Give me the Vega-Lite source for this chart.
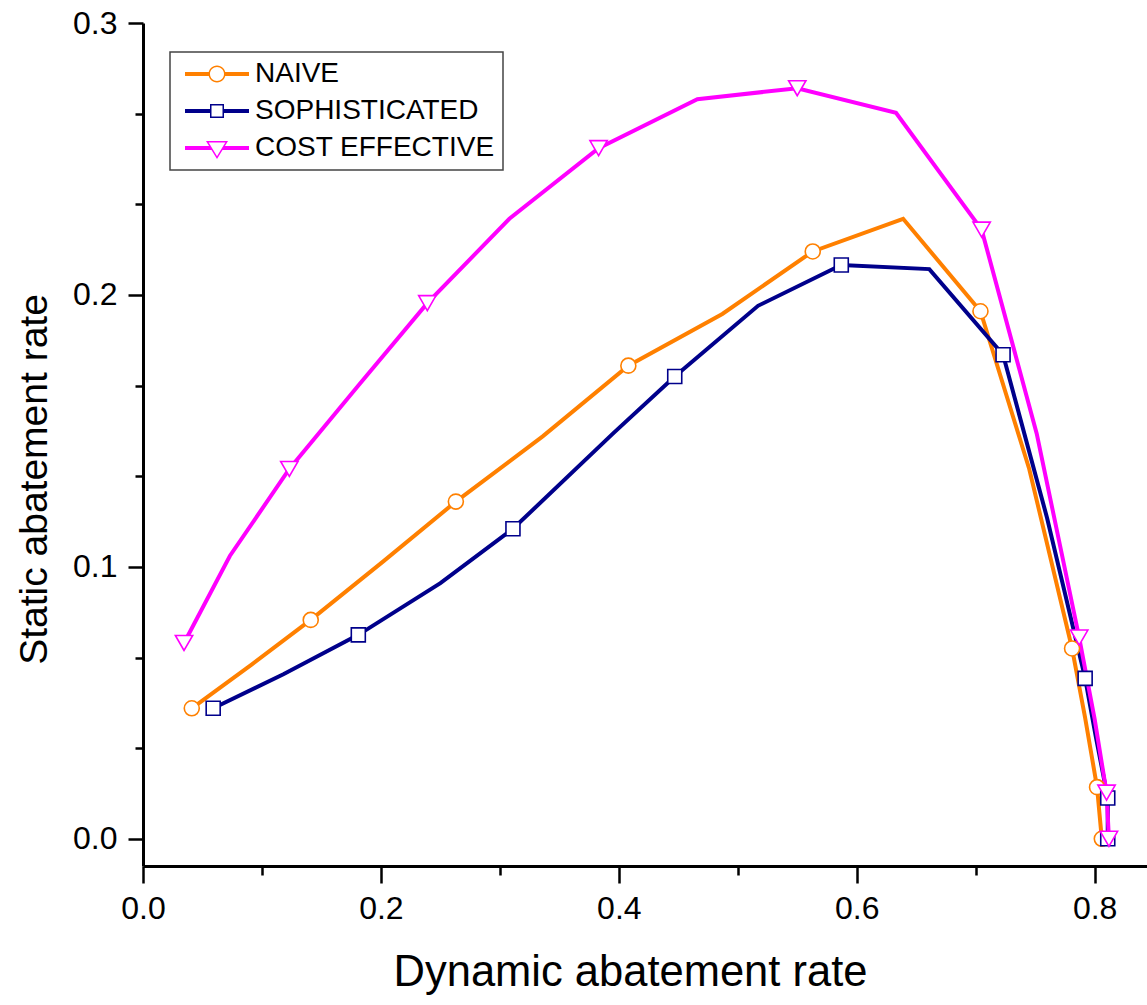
{
  "$schema": "https://vega.github.io/schema/vega-lite/v6.json",
  "width": 1004,
  "height": 843,
  "autosize": "none",
  "padding": {"left": 143, "top": 23, "right": 0, "bottom": 139},
  "background": "white",
  "config": {
    "view": {"stroke": null},
    "font": "Liberation Sans",
    "legend": {"strokeWidth": 1.5}
  },
  "data": {
    "values": [
      {"s": "NAIVE", "i": 1, "x": 0.041, "y": 0.048, "m": 1},
      {"s": "NAIVE", "i": 2, "x": 0.091, "y": 0.064, "m": 0},
      {"s": "NAIVE", "i": 3, "x": 0.141, "y": 0.0805, "m": 1},
      {"s": "NAIVE", "i": 4, "x": 0.202, "y": 0.102, "m": 0},
      {"s": "NAIVE", "i": 5, "x": 0.263, "y": 0.124, "m": 1},
      {"s": "NAIVE", "i": 6, "x": 0.336, "y": 0.148, "m": 0},
      {"s": "NAIVE", "i": 7, "x": 0.408, "y": 0.174, "m": 1},
      {"s": "NAIVE", "i": 8, "x": 0.487, "y": 0.193, "m": 0},
      {"s": "NAIVE", "i": 9, "x": 0.563, "y": 0.216, "m": 1},
      {"s": "NAIVE", "i": 10, "x": 0.639, "y": 0.228, "m": 0},
      {"s": "NAIVE", "i": 11, "x": 0.704, "y": 0.194, "m": 1},
      {"s": "NAIVE", "i": 12, "x": 0.745, "y": 0.136, "m": 0},
      {"s": "NAIVE", "i": 13, "x": 0.781, "y": 0.070, "m": 1},
      {"s": "NAIVE", "i": 14, "x": 0.792, "y": 0.0445, "m": 0},
      {"s": "NAIVE", "i": 15, "x": 0.802, "y": 0.019, "m": 1},
      {"s": "NAIVE", "i": 16, "x": 0.806, "y": 0.000, "m": 1},
      {"s": "SOPHISTICATED", "i": 1, "x": 0.059, "y": 0.048, "m": 1},
      {"s": "SOPHISTICATED", "i": 2, "x": 0.118, "y": 0.0605, "m": 0},
      {"s": "SOPHISTICATED", "i": 3, "x": 0.181, "y": 0.075, "m": 1},
      {"s": "SOPHISTICATED", "i": 4, "x": 0.250, "y": 0.094, "m": 0},
      {"s": "SOPHISTICATED", "i": 5, "x": 0.311, "y": 0.114, "m": 1},
      {"s": "SOPHISTICATED", "i": 6, "x": 0.395, "y": 0.149, "m": 0},
      {"s": "SOPHISTICATED", "i": 7, "x": 0.447, "y": 0.170, "m": 1},
      {"s": "SOPHISTICATED", "i": 8, "x": 0.517, "y": 0.196, "m": 0},
      {"s": "SOPHISTICATED", "i": 9, "x": 0.587, "y": 0.211, "m": 1},
      {"s": "SOPHISTICATED", "i": 10, "x": 0.661, "y": 0.2095, "m": 0},
      {"s": "SOPHISTICATED", "i": 11, "x": 0.723, "y": 0.178, "m": 1},
      {"s": "SOPHISTICATED", "i": 12, "x": 0.760, "y": 0.118, "m": 0},
      {"s": "SOPHISTICATED", "i": 13, "x": 0.792, "y": 0.059, "m": 1},
      {"s": "SOPHISTICATED", "i": 14, "x": 0.801, "y": 0.0375, "m": 0},
      {"s": "SOPHISTICATED", "i": 15, "x": 0.811, "y": 0.015, "m": 1},
      {"s": "SOPHISTICATED", "i": 16, "x": 0.811, "y": 0.000, "m": 1},
      {"s": "COST EFFECTIVE", "i": 1, "x": 0.0345, "y": 0.072, "m": 1},
      {"s": "COST EFFECTIVE", "i": 2, "x": 0.073, "y": 0.104, "m": 0},
      {"s": "COST EFFECTIVE", "i": 3, "x": 0.123, "y": 0.136, "m": 1},
      {"s": "COST EFFECTIVE", "i": 4, "x": 0.1807, "y": 0.1665, "m": 0},
      {"s": "COST EFFECTIVE", "i": 5, "x": 0.239, "y": 0.197, "m": 1},
      {"s": "COST EFFECTIVE", "i": 6, "x": 0.308, "y": 0.228, "m": 0},
      {"s": "COST EFFECTIVE", "i": 7, "x": 0.383, "y": 0.254, "m": 1},
      {"s": "COST EFFECTIVE", "i": 8, "x": 0.466, "y": 0.272, "m": 0},
      {"s": "COST EFFECTIVE", "i": 9, "x": 0.550, "y": 0.276, "m": 1},
      {"s": "COST EFFECTIVE", "i": 10, "x": 0.633, "y": 0.267, "m": 0},
      {"s": "COST EFFECTIVE", "i": 11, "x": 0.705, "y": 0.224, "m": 1},
      {"s": "COST EFFECTIVE", "i": 12, "x": 0.7513, "y": 0.149, "m": 0},
      {"s": "COST EFFECTIVE", "i": 13, "x": 0.787, "y": 0.074, "m": 1},
      {"s": "COST EFFECTIVE", "i": 14, "x": 0.800, "y": 0.044, "m": 0},
      {"s": "COST EFFECTIVE", "i": 15, "x": 0.810, "y": 0.017, "m": 1},
      {"s": "COST EFFECTIVE", "i": 16, "x": 0.812, "y": 0.000, "m": 1}
    ]
  },
  "layer": [
    {
      "mark": {"type": "line", "strokeWidth": 4, "clip": false},
      "encoding": {
        "x": {
          "field": "x", "type": "quantitative",
          "scale": {"domain": [0, 0.844], "nice": false, "zero": false},
          "axis": {
            "orient": "bottom",
            "values": [0, 0.2, 0.4, 0.6, 0.8], "format": ".1f",
            "grid": false, "domainColor": "black", "domainWidth": 3,
            "tickColor": "black", "tickWidth": 2.5, "tickSize": 17,
            "labelFont": "Liberation Sans", "labelFontSize": 32, "labelColor": "black", "labelPadding": 10,
            "labelFlush": false,
            "title": "Dynamic abatement rate", "titleFont": "Liberation Sans", "titleFontSize": 43.5,
            "titleFontWeight": "normal", "titleColor": "black", "titlePadding": 27, "titleX": 487
          }
        },
        "y": {
          "field": "y", "type": "quantitative",
          "scale": {"domain": [-0.01, 0.3], "nice": false, "zero": false},
          "axis": {
            "orient": "left",
            "values": [0, 0.1, 0.2, 0.3], "format": ".1f",
            "grid": false, "domainColor": "black", "domainWidth": 3,
            "tickColor": "black", "tickWidth": 2.5, "tickSize": 15,
            "labelFont": "Liberation Sans", "labelFontSize": 32, "labelColor": "black", "labelPadding": 11,
            "labelFlush": false,
            "title": "Static abatement rate", "titleFont": "Liberation Sans", "titleFontSize": 39,
            "titleFontWeight": "normal", "titleColor": "black", "titlePadding": 18, "titleY": 456
          }
        },
        "color": {
          "field": "s", "type": "nominal",
          "scale": {"domain": ["NAIVE", "SOPHISTICATED", "COST EFFECTIVE"], "range": ["#FF8000", "#00008B", "#FF00FF"]},
          "legend": {
            "orient": "none", "legendX": 27, "legendY": 29,
            "title": null,
            "labelFont": "Liberation Sans", "labelFontSize": 28, "labelColor": "black", "labelLimit": 0,
            "symbolSize": 256, "symbolStrokeWidth": 0,
            "strokeColor": "#444444", "fillColor": "white",
            "padding": 8, "rowPadding": 9, "labelOffset": 24, "symbolOffset": 25,
            "encode": {
              "symbols": {
                "update": {
                  "shape": {"signal": "datum.value === 'NAIVE' ? 'M-4,-0.25H-1V0.25H-4Z M1,-0.25H4V0.25H1Z M1.0625,0A1.0625,1.0625 0 1,1 -1.0625,0A1.0625,1.0625 0 1,1 1.0625,0Z M0.875,0A0.875,0.875 0 1,0 -0.875,0A0.875,0.875 0 1,0 0.875,0Z' : datum.value === 'SOPHISTICATED' ? 'M-4,-0.25H-0.8V0.25H-4Z M0.8,-0.25H4V0.25H0.8Z M-0.875,-0.875H0.875V0.875H-0.875Z M-0.6875,-0.6875V0.6875H0.6875V-0.6875Z' : 'M-4,-0.25H-0.8L-0.6875,0.25H-4Z M0.8,-0.25H4V0.25H0.6875Z M-1.375,-0.875H1.375L0,1.375Z M-1.041,-0.688L0,1.016L1.041,-0.688Z'"},
                  "fill": {"scale": "color", "field": "value"},
                  "size": {"value": 256},
                  "strokeWidth": {"value": 0},
                  "opacity": {"value": 1}
                }
              }
            }
          }
        },
        "order": {"field": "i", "type": "quantitative"}
      }
    },
    {
      "transform": [{"filter": "datum.m == 1 && datum.s == 'NAIVE'"}],
      "mark": {"type": "point", "shape": "circle", "size": 225, "filled": true, "fill": "white", "stroke": "#FF8000", "strokeWidth": 1.6, "opacity": 1, "clip": false},
      "encoding": {
        "x": {
          "field": "x", "type": "quantitative",
          "axis": {
            "orient": "bottom", "values": [0.1, 0.3, 0.5, 0.7],
            "labels": false, "domain": false, "grid": false, "title": null,
            "tickColor": "black", "tickWidth": 2.5, "tickSize": 9
          }
        },
        "y": {
          "field": "y", "type": "quantitative",
          "axis": {
            "orient": "left", "values": [0.03333, 0.06667, 0.13333, 0.16667, 0.23333, 0.26667],
            "labels": false, "domain": false, "grid": false, "title": null,
            "tickColor": "black", "tickWidth": 2.5, "tickSize": 8
          }
        }
      }
    },
    {
      "transform": [{"filter": "datum.m == 1 && datum.s == 'SOPHISTICATED'"}],
      "mark": {"type": "point", "shape": "square", "size": 196, "filled": true, "fill": "white", "stroke": "#00008B", "strokeWidth": 1.6, "opacity": 1, "clip": false},
      "encoding": {
        "x": {"field": "x", "type": "quantitative", "axis": null},
        "y": {"field": "y", "type": "quantitative", "axis": null}
      }
    },
    {
      "transform": [{"filter": "datum.m == 1 && datum.s == 'COST EFFECTIVE'"}],
      "mark": {"type": "point", "shape": "triangle-down", "size": 300, "filled": true, "fill": "white", "stroke": "#FF00FF", "strokeWidth": 1.6, "opacity": 1, "clip": false},
      "encoding": {
        "x": {"field": "x", "type": "quantitative", "axis": null},
        "y": {"field": "y", "type": "quantitative", "axis": null}
      }
    }
  ],
  "resolve": {"axis": {"x": "independent", "y": "independent"}}
}
